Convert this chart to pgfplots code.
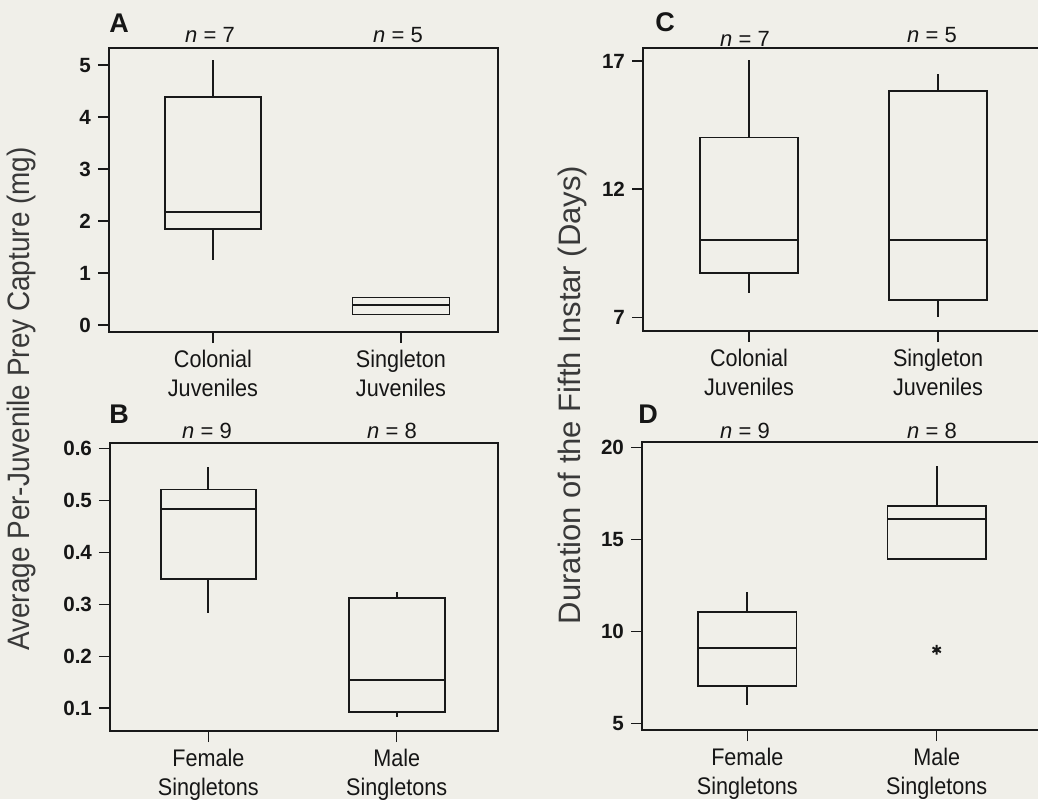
\documentclass[border=0pt]{standalone}
\usepackage{graphicx}
\usepackage{fontspec}
\setmainfont{Liberation Sans}
\usepackage{pgfplots}
\pgfplotsset{compat=1.18}
\usepgfplotslibrary{statistics}
\definecolor{bg}{RGB}{240,239,233}
\definecolor{lc}{RGB}{25,25,25}
\definecolor{tc}{RGB}{22,22,22}
\newcommand{\xl}[2]{\scalebox{0.9}[1]{#1}\\\scalebox{0.9}[1]{#2}}
\pgfplotsset{
  panel/.style={
    scale only axis, anchor=south west,
    axis line style={lc, line width=1pt},
    tick style={lc, line width=0.8pt},
    tick align=outside,
    major tick length=5.5pt,
    xtick pos=left, ytick pos=left,
    xtick={0,1},
    xticklabel style={align=center, font=\fontsize{12}{14.5}\selectfont, text=tc},
    yticklabel style={font=\bfseries\fontsize{10.3}{12}\selectfont, text=tc},
    axis background/.style={fill=bg},
    boxplot/draw direction=y,
    boxplot/every median/.style={line width=1pt},
  },
  bx/.style={draw=lc, line width=0.9pt, solid},
}
\begin{document}
\begin{tikzpicture}
\useasboundingbox (0,0) rectangle (519pt,399.5pt);
\fill[bg] (0,0) rectangle (519pt,399.5pt);
\begin{scope}
\clip (0,0) rectangle (519pt,399.5pt);
% Panel A
\begin{axis}[panel, at={(54.5pt,233.5pt)}, width=194.5pt, height=142pt,
  xmin=-0.553, xmax=1.516, ymin=-0.135, ymax=5.33,
  ytick={0,1,2,3,4,5}, yticklabels={0,1,2,3,4,5},
  xticklabels={{\xl{Colonial}{Juveniles}},{\xl{Singleton}{Juveniles}}}]
\addplot[bx, boxplot prepared={draw direction=y, draw position=0, median=2.18, lower quartile=1.85,
  upper quartile=4.39, lower whisker=1.25, upper whisker=5.1, box extend=0.51, whisker extend=0}] coordinates {};
\addplot[bx, boxplot prepared={draw direction=y, draw position=1, median=0.38, lower quartile=0.20,
  upper quartile=0.53, lower whisker=0.20, upper whisker=0.53, box extend=0.515, whisker extend=0}] coordinates {};
\end{axis}
% Panel B
\begin{axis}[panel, at={(55pt,34pt)}, width=194pt, height=144.15pt,
  xmin=-0.522, xmax=1.538, ymin=0.0563, ymax=0.611,
  ytick={0.1,0.2,0.3,0.4,0.5,0.6}, yticklabels={0.1,0.2,0.3,0.4,0.5,0.6},
  xticklabels={{\xl{Female}{Singletons}},{\xl{Male}{Singletons}}}]
\addplot[bx, boxplot prepared={draw direction=y, draw position=0, median=0.483, lower quartile=0.349,
  upper quartile=0.521, lower whisker=0.283, upper whisker=0.565, box extend=0.505, whisker extend=0}] coordinates {};
\addplot[bx, boxplot prepared={draw direction=y, draw position=1, median=0.154, lower quartile=0.0935,
  upper quartile=0.312, lower whisker=0.083, upper whisker=0.323, box extend=0.51, whisker extend=0}] coordinates {};
\end{axis}
% Panel C
\begin{axis}[panel, at={(321.5pt,234pt)}, width=201pt, height=141.5pt,
  xmin=-0.561, xmax=1.566, ymin=6.47, ymax=17.51,
  ytick={7,12,17}, yticklabels={7,12,17},
  xticklabels={{\xl{Colonial}{Juveniles}},{\xl{Singleton}{Juveniles}}}]
\addplot[bx, boxplot prepared={draw direction=y, draw position=0, median=10.03, lower quartile=8.72,
  upper quartile=14.02, lower whisker=7.94, upper whisker=17.04, box extend=0.52, whisker extend=0}] coordinates {};
\addplot[bx, boxplot prepared={draw direction=y, draw position=1, median=10.03, lower quartile=7.67,
  upper quartile=15.84, lower whisker=7.0, upper whisker=16.49, box extend=0.52, whisker extend=0}] coordinates {};
\end{axis}
% Panel D
\begin{axis}[panel, at={(321pt,34.5pt)}, width=201.5pt, height=143.85pt,
  xmin=-0.556, xmax=1.572, ymin=4.635, ymax=20.29,
  ytick={5,10,15,20}, yticklabels={5,10,15,20},
  xticklabels={{\xl{Female}{Singletons}},{\xl{Male}{Singletons}}}]
\addplot[bx, boxplot prepared={draw direction=y, draw position=0, median=9.08, lower quartile=7.04,
  upper quartile=11.07, lower whisker=5.99, upper whisker=12.16, box extend=0.52, whisker extend=0}] coordinates {};
\addplot[bx, boxplot prepared={draw direction=y, draw position=1, median=16.10, lower quartile=13.94,
  upper quartile=16.84, lower whisker=13.94, upper whisker=19.0, box extend=0.52, whisker extend=0}] coordinates {};
\addplot[only marks, mark=asterisk, mark size=2.4pt, draw=lc, line width=1pt] coordinates {(1,9)};
\end{axis}
\end{scope}
% panel letters
\begin{scope}[every node/.style={inner sep=0pt, text=tc, font=\bfseries\fontsize{13.5}{15}\selectfont}]
\node[anchor=base west] at (54.5pt,383pt) {A};
\node[anchor=base west] at (54.5pt,188pt) {B};
\node[anchor=base west] at (327.5pt,383.5pt) {C};
\node[anchor=base west] at (319pt,188pt) {D};
\end{scope}
% n labels
\begin{scope}[every node/.style={inner sep=0pt, text=tc, font=\fontsize{11}{13}\selectfont, anchor=base}]
\node at (105pt,378pt) {\textit{n} = 7};
\node at (199pt,378pt) {\textit{n} = 5};
\node at (372.5pt,376pt) {\textit{n} = 7};
\node at (466pt,378pt) {\textit{n} = 5};
\node at (103.5pt,180.5pt) {\textit{n} = 9};
\node at (196pt,180.5pt) {\textit{n} = 8};
\node at (372.5pt,180.5pt) {\textit{n} = 9};
\node at (466pt,180.5pt) {\textit{n} = 8};
\end{scope}
% y labels
\node[rotate=90, text=tc!85!white, font=\fontsize{15.5}{18}\selectfont, inner sep=0pt] at (10.5pt,200pt)
  {\scalebox{0.9}[1]{Average Per-Juvenile Prey Capture (mg)}};
\node[rotate=90, text=tc!85!white, font=\fontsize{15.5}{18}\selectfont, inner sep=0pt] at (286pt,202pt)
  {Duration of the Fifth Instar (Days)};
\end{tikzpicture}
\end{document}
